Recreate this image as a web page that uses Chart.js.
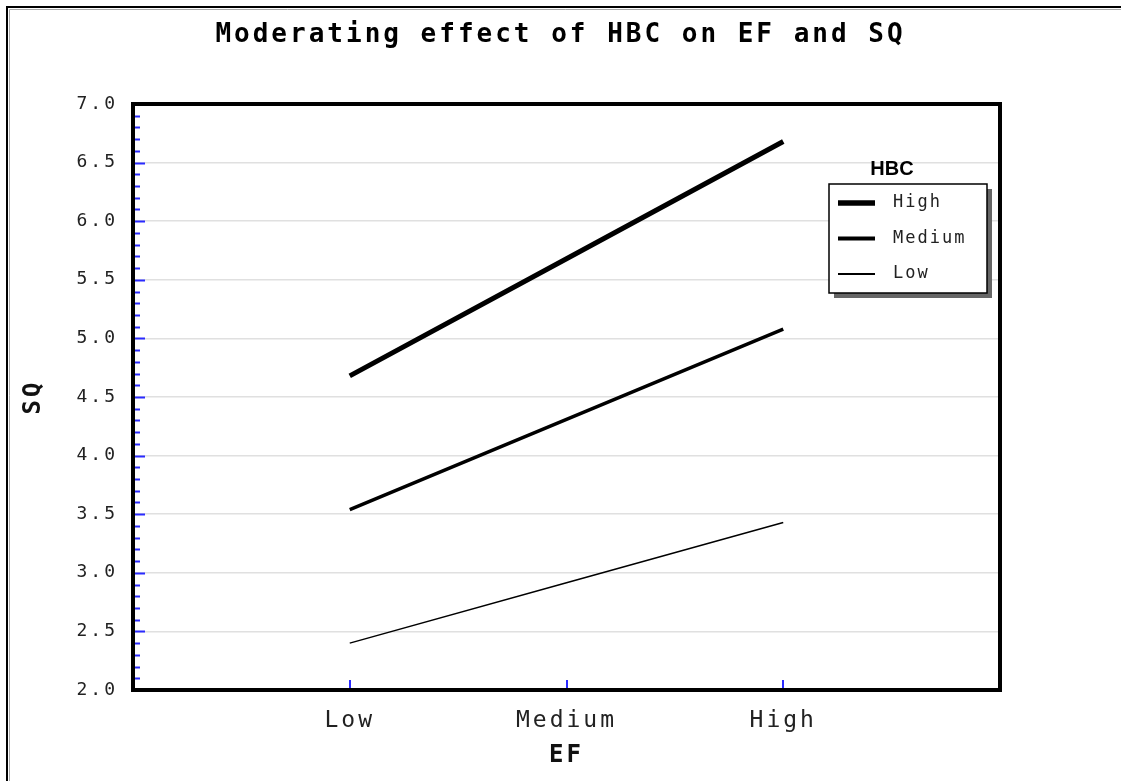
<!DOCTYPE html>
<html lang="en">
<head>
  <meta charset="UTF-8">
  <title>Moderating effect of HBC on EF and SQ</title>
  <script src="https://cdn.jsdelivr.net/npm/chart.js"></script>
  <style>
    body { margin: 0; background: #fff; }
  </style>
</head>
<body>
  <canvas id="grafico" width="1121" height="781"></canvas>

  <script>
    const categorie = ['Low', 'Medium', 'High'];
    const hbcHigh = [4.68, 5.68, 6.68];
    const hbcMedium = [3.54, 4.31, 5.08];
    const hbcLow = [2.40, 2.915, 3.43];
    const yTicks = [2.0, 2.5, 3.0, 3.5, 4.0, 4.5, 5.0, 5.5, 6.0, 6.5, 7.0];

    const mono = "'DejaVu Sans Mono', 'Liberation Mono', monospace";

    function punti(valori) {
      return valori.map((v, i) => ({ x: i + 1, y: v }));
    }

    // spaziatura lettere, come il font del grafico originale
    const spaziatura = {
      id: 'spaziatura',
      beforeDraw(chart) {
        chart.ctx.letterSpacing = '3px';
      }
    };

    // cornice esterna, bordo del grafico e tacche blu
    const cornice = {
      id: 'cornice',
      beforeDraw(chart) {
        const ctx = chart.ctx;
        ctx.save();
        ctx.strokeStyle = '#000';
        ctx.lineWidth = 2;
        ctx.beginPath();
        ctx.moveTo(1121, 7);
        ctx.lineTo(7, 7);
        ctx.lineTo(7, 781);
        ctx.stroke();
        ctx.strokeStyle = '#aaa';
        ctx.lineWidth = 1;
        ctx.beginPath();
        ctx.moveTo(1121, 9.5);
        ctx.lineTo(9.5, 9.5);
        ctx.lineTo(9.5, 781);
        ctx.stroke();
        ctx.restore();
      },
      afterDraw(chart) {
        const ctx = chart.ctx;
        const a = chart.chartArea;
        const ys = chart.scales.y;
        const xs = chart.scales.x;
        ctx.save();
        ctx.strokeStyle = '#2a2aff';
        ctx.lineWidth = 2;
        ctx.beginPath();
        for (let k = 21; k < 70; k++) {
          const py = Math.round(ys.getPixelForValue(k / 10)) + 0.5;
          const len = k % 5 === 0 ? 12 : 7;
          ctx.moveTo(a.left, py);
          ctx.lineTo(a.left + len, py);
        }
        for (let i = 0; i < categorie.length; i++) {
          const px = Math.round(xs.getPixelForValue(i + 1));
          ctx.moveTo(px, a.bottom);
          ctx.lineTo(px, a.bottom - 10);
        }
        ctx.stroke();
        ctx.strokeStyle = '#000';
        ctx.lineWidth = 4;
        ctx.strokeRect(a.left, a.top, a.right - a.left, a.bottom - a.top);
        ctx.restore();
      }
    };

    // legenda con ombra e titolo HBC
    const legenda = {
      id: 'legenda',
      afterDraw(chart) {
        const ctx = chart.ctx;
        const bx = 829, by = 184, bw = 158, bh = 109;
        ctx.save();
        ctx.fillStyle = '#666';
        ctx.fillRect(bx + 5, by + 5, bw, bh);
        ctx.fillStyle = '#fff';
        ctx.fillRect(bx, by, bw, bh);
        ctx.strokeStyle = '#000';
        ctx.lineWidth = 1.5;
        ctx.strokeRect(bx, by, bw, bh);

        ctx.letterSpacing = '0px';
        ctx.fillStyle = '#000';
        ctx.font = "bold 20px 'Liberation Sans', Arial, sans-serif";
        ctx.textAlign = 'center';
        ctx.textBaseline = 'alphabetic';
        ctx.fillText('HBC', 892, 175);

        ctx.letterSpacing = '2px';
        ctx.font = '17px ' + mono;
        ctx.textAlign = 'left';
        ctx.textBaseline = 'middle';
        chart.data.datasets.forEach((ds, i) => {
          const ry = 203 + i * 35.5;
          ctx.strokeStyle = '#000';
          ctx.lineWidth = ds.borderWidth + 0.5;
          ctx.beginPath();
          ctx.moveTo(838, ry);
          ctx.lineTo(875, ry);
          ctx.stroke();
          ctx.fillStyle = '#222';
          ctx.fillText(ds.label, 893, ry);
        });
        ctx.restore();
      }
    };

    const ctx = document.getElementById('grafico').getContext('2d');
    const chart = new Chart(ctx, {
      type: 'line',
      data: {
        datasets: [
          { label: 'High', data: punti(hbcHigh), borderColor: '#000', borderWidth: 5, pointRadius: 0 },
          { label: 'Medium', data: punti(hbcMedium), borderColor: '#000', borderWidth: 3.5, pointRadius: 0 },
          { label: 'Low', data: punti(hbcLow), borderColor: '#000', borderWidth: 1.5, pointRadius: 0 }
        ]
      },
      options: {
        responsive: false,
        animation: false,
        layout: { padding: 0 },
        plugins: {
          legend: { display: false },
          tooltip: { enabled: false },
          title: {
            display: true,
            text: 'Moderating effect of HBC on EF and SQ',
            color: '#000',
            font: { family: mono, size: 26, weight: 'bold', lineHeight: 1.2 },
            padding: { top: 20, bottom: 52.8 }
          }
        },
        scales: {
          x: {
            type: 'linear',
            min: 0,
            max: 4,
            afterFit(scale) { scale.height = 91; },
            afterBuildTicks(scale) {
              scale.ticks = categorie.map((c, i) => ({ value: i + 1 }));
            },
            ticks: {
              color: '#222',
              padding: 9,
              maxRotation: 0,
              font: { family: mono, size: 23 },
              callback: (v) => categorie[v - 1] || ''
            },
            grid: { display: false },
            border: { display: false },
            title: {
              display: true,
              text: 'EF',
              color: '#111',
              font: { family: mono, size: 24, weight: 'bold', lineHeight: 1.2 },
              padding: { top: 0, bottom: 11 }
            }
          },
          y: {
            min: 2,
            max: 7,
            afterFit(scale) { scale.width = 133; },
            afterBuildTicks(scale) {
              scale.ticks = yTicks.map(v => ({ value: v }));
            },
            ticks: {
              color: '#222',
              padding: 15,
              font: { family: mono, size: 18 },
              callback: (v) => v.toFixed(1)
            },
            grid: {
              drawTicks: false,
              lineWidth: 1.5,
              color: (c) => (c.tick && (c.tick.value === 2 || c.tick.value === 7)) ? 'rgba(0,0,0,0)' : '#e0e0e0'
            },
            border: { display: false },
            title: {
              display: true,
              text: 'SQ',
              color: '#111',
              font: { family: mono, size: 24, weight: 'bold', lineHeight: 1.2 },
              padding: { top: 19, bottom: 0 }
            }
          },
          destra: {
            position: 'right',
            afterFit(scale) { scale.width = 121; },
            ticks: { display: false },
            grid: { display: false },
            border: { display: false }
          }
        }
      },
      plugins: [spaziatura, cornice, legenda]
    });
  </script>
</body>
</html>
